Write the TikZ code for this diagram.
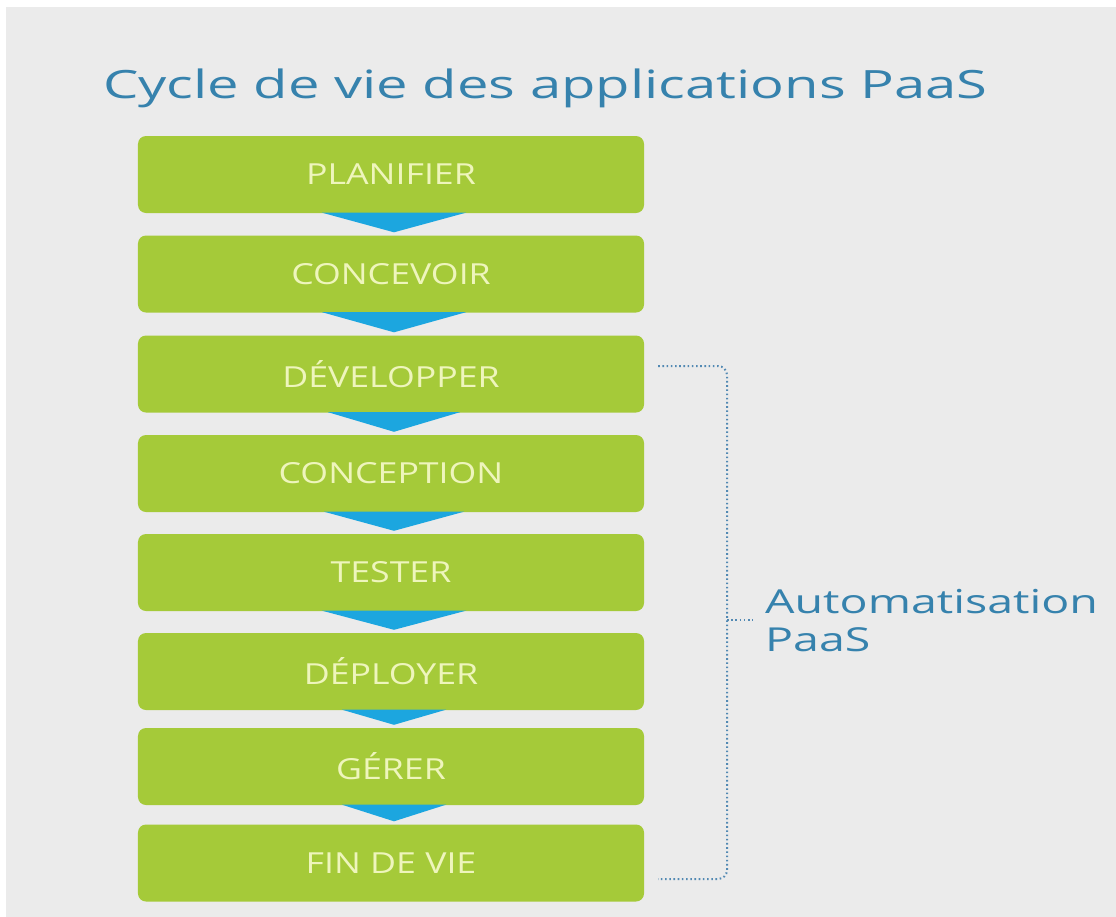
\documentclass[tikz,border=0pt]{standalone}
\usepackage{graphicx}
\usepackage{fontspec}
\setmainfont{Open Sans}
\usetikzlibrary{calc}

\definecolor{pagegray}{HTML}{EBEBEB}
\definecolor{stagegreen}{HTML}{A5CA39}
\definecolor{stagetext}{HTML}{EEF5BC}
\definecolor{flowblue}{HTML}{1CA6DF}
\definecolor{headblue}{HTML}{3682AD}
\definecolor{bracketblue}{HTML}{5289B3}

% the lettering is set wide: stretch horizontally only
\newcommand{\widestage}[1]{\scalebox{1.23}[1]{#1}}
\newcommand{\widehead}[1]{\scalebox{1.44}[1]{#1}}
\newcommand{\widenote}[1]{\scalebox{1.41}[1]{#1}}

\tikzset{
  stagebox/.style={rectangle, rounded corners=8bp, fill=stagegreen,
    minimum width=506bp, minimum height=77bp, inner sep=0pt,
    text=stagetext, font=\fontsize{29bp}{32bp}\selectfont},
  flowtip/.style={fill=flowblue},
  bracketline/.style={bracketblue, line width=2bp,
    dash pattern=on 1.6bp off 2.6bp, rounded corners=9bp},
  headline/.style={anchor=base west, inner sep=0pt, text=headblue,
    font=\fontsize{39bp}{44bp}\selectfont},
  noteline/.style={anchor=base west, inner sep=0pt, text=headblue,
    font=\fontsize{33bp}{37bp}\selectfont}
}

\begin{document}
\begin{tikzpicture}[x=1bp, y=-1bp]
  % canvas
  \useasboundingbox (0,0) rectangle (1116,917);
  \fill[white] (0,0) rectangle (1116,917);
  \fill[pagegray] (6,7) rectangle (1116,917);

  % heading
  \node[headline] (title) at (103,98) {\widehead{Cycle de vie des applications PaaS}};

  % lifecycle stages
  \node[stagebox] (s1) at (391,174.5) {\widestage{PLANIFIER}};
  \node[stagebox] (s2) at (391,274)   {\widestage{CONCEVOIR}};
  \node[stagebox] (s3) at (391,374)   {\widestage{DÉVELOPPER}};
  \node[stagebox] (s4) at (391,473.5) {\widestage{CONCEPTION}};
  \node[stagebox] (s5) at (391,572.5) {\widestage{TESTER}};
  \node[stagebox] (s6) at (391,671.5) {\widestage{DÉPLOYER}};
  \node[stagebox] (s7) at (391,766.5) {\widestage{GÉRER}};
  \node[stagebox] (s8) at (391,863)   {\widestage{FIN DE VIE}};

  % downward pointers between consecutive stages
  \foreach \a/\b/\w in {s1/s2/72, s2/s3/72, s3/s4/66, s4/s5/70,
                        s5/s6/72, s6/s7/52, s7/s8/52} {
    \fill[flowtip] ($(\a.south)+(3-\w,-0.5)$) -- ($(\a.south)+(3+\w,-0.5)$)
      -- ($(\b.north)+(3,-3)$) -- cycle;
  }

  % bracket spanning the automated stages
  \coordinate (bt) at ($(s3.east)+(14,-8)$);
  \coordinate (bb) at ($(s8.east)+(14,16)$);
  \coordinate (bm) at (727,620);
  \draw[bracketline] (bt) -- (727,366) -- (727,879) -- (bb);
  \draw[bracketline] (bm) -- (753,620);

  % bracket label
  \node[noteline] (auto) at (765,613) {\widenote{Automatisation}};
  \node[noteline] (paas) at (765,651) {\widenote{PaaS}};
\end{tikzpicture}
\end{document}
